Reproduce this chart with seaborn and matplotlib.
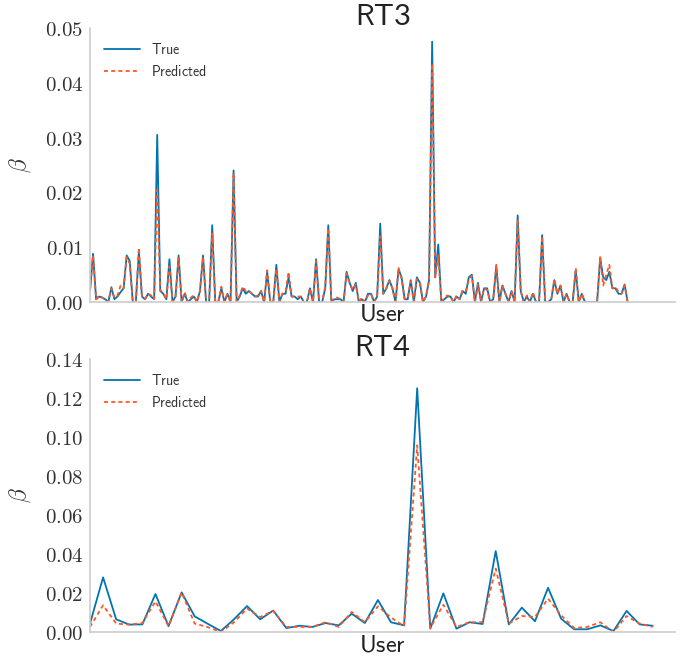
import numpy as np
import pandas as pd
import seaborn as sns
import matplotlib
matplotlib.use("Agg")
import matplotlib.pyplot as plt
from matplotlib.ticker import FuncFormatter, MultipleLocator

# ---------------- data ----------------
rt3_true = [
    0.0020, 0.0088, 0.0005, 0.0010, 0.0008, 0.0005, 0.0000, 0.0027, 0.0005, 0.0010,
    0.0018, 0.0025, 0.0085, 0.0075, 0.0000, 0.0000, 0.0092, 0.0010, 0.0005, 0.0015,
    0.0010, 0.0005, 0.0305, 0.0020, 0.0015, 0.0005, 0.0078, 0.0000, 0.0010, 0.0085,
    0.0000, 0.0015, 0.0000, 0.0005, 0.0010, 0.0000, 0.0020, 0.0085, 0.0000, 0.0000,
    0.0140, 0.0000, 0.0000, 0.0025, 0.0000, 0.0015, 0.0000, 0.0240, 0.0000, 0.0010,
    0.0025, 0.0015, 0.0020, 0.0015, 0.0010, 0.0010, 0.0020, 0.0000, 0.0055, 0.0000,
    0.0000, 0.0068, 0.0000, 0.0015, 0.0015, 0.0045, 0.0010, 0.0010, 0.0005, 0.0010,
    0.0000, 0.0000, 0.0025, 0.0000, 0.0078, 0.0000, 0.0000, 0.0025, 0.0140, 0.0000,
    0.0005, 0.0005, 0.0005, 0.0000, 0.0055, 0.0035, 0.0020, 0.0035, 0.0000, 0.0005,
    0.0000, 0.0015, 0.0015, 0.0000, 0.0010, 0.0143, 0.0015, 0.0025, 0.0040, 0.0025,
    0.0000, 0.0060, 0.0045, 0.0005, 0.0005, 0.0040, 0.0000, 0.0045, 0.0035, 0.0000,
    0.0010, 0.0040, 0.0475, 0.0045, 0.0105, 0.0000, 0.0005, 0.0010, 0.0010, 0.0000,
    0.0010, 0.0005, 0.0020, 0.0015, 0.0045, 0.0050, 0.0000, 0.0035, 0.0000, 0.0025,
    0.0025, 0.0000, 0.0005, 0.0065, 0.0000, 0.0030, 0.0015, 0.0000, 0.0020, 0.0000,
    0.0158, 0.0020, 0.0000, 0.0010, 0.0000, 0.0015, 0.0000, 0.0000, 0.0122, 0.0000,
    0.0000, 0.0005, 0.0040, 0.0015, 0.0030, 0.0000, 0.0015, 0.0000, 0.0000, 0.0058,
    0.0000, 0.0015, 0.0000, 0.0000, 0.0000, 0.0000, 0.0000, 0.0080, 0.0045, 0.0040,
    0.0055, 0.0025, 0.0025, 0.0015, 0.0015, 0.0032, 0.0000,
]
rt3_pred = [
    0.0020, 0.0085, 0.0005, 0.0012, 0.0008, 0.0005, 0.0000, 0.0025, 0.0008, 0.0012,
    0.0030, 0.0025, 0.0082, 0.0070, 0.0000, 0.0000, 0.0099, 0.0010, 0.0005, 0.0015,
    0.0012, 0.0005, 0.0205, 0.0022, 0.0015, 0.0005, 0.0065, 0.0000, 0.0010, 0.0080,
    0.0000, 0.0018, 0.0000, 0.0008, 0.0012, 0.0000, 0.0020, 0.0082, 0.0000, 0.0000,
    0.0125, 0.0000, 0.0000, 0.0028, 0.0000, 0.0015, 0.0000, 0.0235, 0.0000, 0.0012,
    0.0028, 0.0020, 0.0020, 0.0015, 0.0010, 0.0012, 0.0020, 0.0000, 0.0058, 0.0000,
    0.0000, 0.0060, 0.0000, 0.0015, 0.0018, 0.0055, 0.0010, 0.0010, 0.0010, 0.0010,
    0.0000, 0.0000, 0.0025, 0.0000, 0.0075, 0.0000, 0.0000, 0.0028, 0.0135, 0.0000,
    0.0008, 0.0008, 0.0005, 0.0000, 0.0052, 0.0035, 0.0022, 0.0032, 0.0000, 0.0008,
    0.0000, 0.0012, 0.0015, 0.0000, 0.0010, 0.0120, 0.0015, 0.0025, 0.0038, 0.0025,
    0.0000, 0.0062, 0.0042, 0.0005, 0.0008, 0.0038, 0.0000, 0.0042, 0.0035, 0.0000,
    0.0010, 0.0040, 0.0435, 0.0045, 0.0085, 0.0000, 0.0008, 0.0012, 0.0010, 0.0000,
    0.0012, 0.0005, 0.0022, 0.0020, 0.0040, 0.0048, 0.0000, 0.0032, 0.0000, 0.0025,
    0.0022, 0.0000, 0.0005, 0.0068, 0.0000, 0.0030, 0.0015, 0.0000, 0.0020, 0.0000,
    0.0150, 0.0020, 0.0000, 0.0012, 0.0000, 0.0018, 0.0000, 0.0000, 0.0120, 0.0000,
    0.0000, 0.0005, 0.0042, 0.0015, 0.0030, 0.0000, 0.0015, 0.0000, 0.0000, 0.0062,
    0.0000, 0.0015, 0.0000, 0.0000, 0.0000, 0.0000, 0.0000, 0.0082, 0.0030, 0.0050,
    0.0068, 0.0025, 0.0028, 0.0018, 0.0015, 0.0030, 0.0000,
]

rt4_true = [
    0.0043, 0.0280, 0.0065, 0.0038, 0.0039, 0.0195, 0.0030, 0.0203, 0.0080, 0.0042,
    0.0005, 0.0065, 0.0133, 0.0065, 0.0110, 0.0020, 0.0032, 0.0026, 0.0046, 0.0034,
    0.0094, 0.0046, 0.0164, 0.0050, 0.0034, 0.1250, 0.0017, 0.0198, 0.0017, 0.0050,
    0.0041, 0.0415, 0.0039, 0.0125, 0.0055, 0.0227, 0.0068, 0.0014, 0.0014, 0.0034,
    0.0005, 0.0108, 0.0039, 0.0032,
]
rt4_pred = [
    0.0026, 0.0137, 0.0043, 0.0038, 0.0046, 0.0157, 0.0030, 0.0203, 0.0043, 0.0025,
    0.0000, 0.0050, 0.0120, 0.0077, 0.0108, 0.0026, 0.0026, 0.0026, 0.0050, 0.0026,
    0.0103, 0.0050, 0.0132, 0.0074, 0.0030, 0.0957, 0.0020, 0.0140, 0.0026, 0.0050,
    0.0050, 0.0325, 0.0043, 0.0082, 0.0077, 0.0171, 0.0085, 0.0020, 0.0026, 0.0050,
    0.0000, 0.0082, 0.0043, 0.0026,
]

titles = ["RT3", "RT4"]
series_labels = ["True", "Predicted"]

# ---------------- style ----------------
sns.set_style("white")
plt.rcParams["mathtext.fontset"] = "cm"
plt.rcParams["font.family"] = ["DejaVu Sans"]

BLUE = "#0173b2"
RED = "#ff5722"
SPINE = "#cccccc"
TXT = "#333333"

fig = plt.figure(figsize=(6.92, 6.60), dpi=100)
ax_top = fig.add_axes([90 / 692, (660 - 302) / 660, (675 - 90) / 692, (302 - 28) / 660])
ax_bot = fig.add_axes([90 / 692, (660 - 632) / 660, (675 - 90) / 692, (632 - 359) / 660])

configs = [
    (ax_top, rt3_true, rt3_pred, titles[0], 0.05, 0.01, 191.5),
    (ax_bot, rt4_true, rt4_pred, titles[1], 0.14, 0.02, 44.7),
]

for ax, tv, pv, title, ymax, ystep, xmax in configs:
    df = pd.DataFrame({"user": np.arange(len(tv)), "true": tv, "pred": pv})
    sns.lineplot(data=df, x="user", y="true", ax=ax, color=BLUE, lw=1.3,
                 label=r"$\mathsf{%s}$" % series_labels[0])
    sns.lineplot(data=df, x="user", y="pred", ax=ax, color=RED, lw=1.3,
                 linestyle=(0, (2.2, 1.8)), label=r"$\mathsf{%s}$" % series_labels[1])
    ax.set_xlim(0, xmax)
    ax.set_ylim(0, ymax)
    ax.set_xticks([])
    ax.yaxis.set_major_locator(MultipleLocator(ystep))
    ax.yaxis.set_major_formatter(FuncFormatter(lambda v, p: r"$%.2f$" % v))
    ax.tick_params(axis="y", labelsize=15, labelcolor=TXT, length=3, color=SPINE,
                   direction="out", pad=2)
    for s in ["top", "right"]:
        ax.spines[s].set_visible(False)
    for s in ["left", "bottom"]:
        ax.spines[s].set_color(SPINE)
        ax.spines[s].set_linewidth(1.2)
    ax.set_title(r"$\mathsf{%s}$%s" % (title[:2], title[2:]), fontsize=21,
                 color="#222222", pad=2, fontfamily="Lato")
    ax.set_xlabel(r"$\mathsf{User}$", fontsize=17.5, color="#222222", labelpad=0)
    ax.set_ylabel(r"$\beta$", fontsize=17, color=TXT, labelpad=8)
    leg = ax.legend(loc="upper left", frameon=False, fontsize=10,
                    handlelength=2.6, borderaxespad=0.6, labelspacing=0.5)
    for t in leg.get_texts():
        t.set_color(TXT)

fig.savefig("out.png", dpi=100)
